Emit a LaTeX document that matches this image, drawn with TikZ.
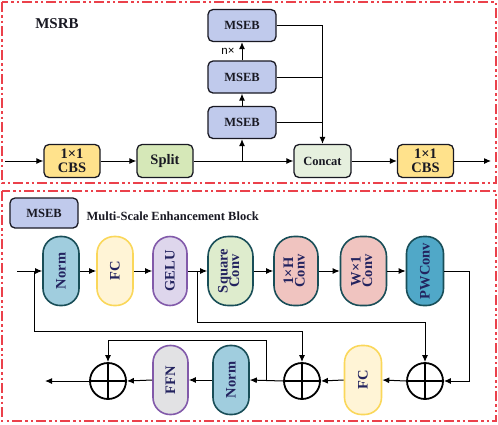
\documentclass[tikz,border=0pt]{standalone}
\usepackage{fontspec}
\setmainfont{Liberation Serif}
\newfontfamily\sansf{Liberation Sans}
\usepackage{graphicx}
\usetikzlibrary{arrows.meta}
\definecolor{bordred}{RGB}{235,65,75}
\definecolor{boxline}{RGB}{25,25,35}
\definecolor{cbsfill}{RGB}{255,226,140}
\definecolor{splitfill}{RGB}{214,232,184}
\definecolor{concatfill}{RGB}{230,240,222}
\definecolor{msebfill}{RGB}{192,202,236}
\definecolor{navy}{RGB}{35,35,95}
\definecolor{normfill}{RGB}{160,205,222}
\definecolor{tealline}{RGB}{25,78,88}
\definecolor{fcfill}{RGB}{255,244,214}
\definecolor{fcline}{RGB}{250,215,90}
\definecolor{gelufill}{RGB}{222,214,236}
\definecolor{purpline}{RGB}{130,90,170}
\definecolor{sqfill}{RGB}{222,236,205}
\definecolor{pinkfill}{RGB}{240,196,192}
\definecolor{pwfill}{RGB}{80,168,200}
\definecolor{ffnfill}{RGB}{226,226,228}
\begin{document}
\begin{tikzpicture}[x=1pt,y=-1pt,
  arr/.style={-{Latex[length=7pt,width=6pt]}, line width=1pt, draw=black},
  ln/.style={line width=1pt, draw=black},
  border/.style={draw=bordred, line width=2pt, dash pattern=on 10pt off 3pt on 2.5pt off 3pt on 2.5pt off 3pt},
  box/.style={draw=boxline, line width=1.3pt, rounded corners=5pt, minimum width=56pt, minimum height=33pt, align=center, inner sep=0pt, text=boxline, font=\fontsize{14.5}{14}\selectfont\bfseries},
  msebbox/.style={box, fill=msebfill, minimum width=68pt, minimum height=32pt, font=\fontsize{12.5}{12.5}\selectfont\bfseries},
  pill/.style={line width=1.6pt, rounded corners=17pt, minimum width=36pt, minimum height=69pt, inner sep=0pt, text=navy, font=\fontsize{14.5}{14.5}\selectfont\bfseries},
  plus/.style={circle, draw=black, line width=1.8pt, minimum size=36pt, inner sep=0pt}
]
\useasboundingbox (0,0) rectangle (498,424);
% borders
\draw[border] (2,2) rectangle (496,183);
\draw[border] (2,191) rectangle (496,421);
% ---------- top: MSRB ----------
\node[font=\fontsize{15}{15}\selectfont\bfseries, text=boxline] (title) at (57,24) {MSRB};
\node[box, fill=cbsfill] (cbs1) at (72,161) {1×1\\CBS};
\node[box, fill=splitfill] (split) at (165,161) {Split};
\node[msebbox] (m1) at (242,122.5) {MSEB};
\node[msebbox] (m2) at (242,77) {MSEB};
\node[msebbox] (m3) at (242,25.5) {MSEB};
\node[box, fill=concatfill, minimum width=57pt, font=\fontsize{12.5}{12.5}\selectfont\bfseries] (concat) at (322.5,161) {Concat};
\node[box, fill=cbsfill] (cbs2) at (425.5,161) {1×1\\CBS};
\coordinate (tin) at (5,161);
\coordinate (tout) at (491,161);
\coordinate (br) at (242,161);
\draw[arr] (tin) -- (cbs1);
\draw[arr] (cbs1) -- (split);
\draw[arr] (split) -- (concat);
\draw[arr] (cbs2) -- (tout);
\draw[arr] (concat) -- (cbs2);
\draw[arr] (br) -- (m1);
\draw[arr] (m1) -- (m2);
\draw[arr] (m2) -- (m3);
\node[font=\sansf\fontsize{11.5}{11.5}\selectfont, anchor=east] (nx) at (238,51) {n×};
\draw[arr] (m3.east) -| (concat.north);
\draw[ln] (m2.east) -- (concat.north |- m2.east);
\draw[ln] (m1.east) -- (concat.north |- m1.east);
% ---------- bottom: MSEB ----------
\node[msebbox, minimum width=68pt, minimum height=30pt] (leg) at (44,213) {MSEB};
\node[anchor=west, font=\fontsize{12.5}{12.5}\selectfont\bfseries, text=boxline] (legtxt) at (83,216) {Multi-Scale Enhancement Block};
\node[pill, draw=tealline, fill=normfill] (n1) at (61,271) {\rotatebox{90}{Norm}};
\node[pill, draw=fcline, fill=fcfill] (f1) at (115,271) {\rotatebox{90}{FC}};
\node[pill, draw=purpline, fill=gelufill, minimum width=34pt] (ge) at (170,271) {\rotatebox{90}{GELU}};
\node[pill, draw=tealline, fill=sqfill, minimum width=45pt, rounded corners=20pt] (sq) at (230.5,271) {\rotatebox{90}{\begin{tabular}{@{}c@{}}Square\\[-3pt]Conv\end{tabular}}};
\node[pill, draw=tealline, fill=pinkfill, minimum width=44pt, rounded corners=20pt] (hc) at (296,271) {\rotatebox{90}{\begin{tabular}{@{}c@{}}1×H\\[-3pt]Conv\end{tabular}}};
\node[pill, draw=tealline, fill=pinkfill, minimum width=46pt, rounded corners=20pt] (wc) at (363.5,271) {\rotatebox{90}{\begin{tabular}{@{}c@{}}W×1\\[-3pt]Conv\end{tabular}}};
\node[pill, draw=tealline, fill=pwfill, minimum width=37pt] (pw) at (425,271) {\rotatebox{90}{PWConv}};
\node[plus] (p1) at (108,381) {};
\node[pill, draw=purpline, fill=ffnfill, minimum width=35pt] (ffn) at (170.5,380) {\rotatebox{90}{FFN}};
\node[pill, draw=tealline, fill=normfill] (n2) at (231,380) {\rotatebox{90}{Norm}};
\node[plus] (p2) at (302,381) {};
\node[pill, draw=fcline, fill=fcfill, minimum width=37pt] (f2) at (363,380) {\rotatebox{90}{FC}};
\node[plus] (p3) at (425,381) {};
\foreach \p in {p1,p2,p3}{
  \draw[line width=1.8pt] (\p.north) -- (\p.south) (\p.west) -- (\p.east);
}
\coordinate (bin) at (17,271);
\coordinate (bout) at (45,381);
\coordinate (s1) at (34,271);
\coordinate (s2) at (197,271);
\coordinate (s3) at (266,381);
\draw[arr] (bin) -- (n1);
\draw[arr] (n1) -- (f1);
\draw[arr] (f1) -- (ge);
\draw[arr] (ge) -- (sq);
\draw[arr] (sq) -- (hc);
\draw[arr] (hc) -- (wc);
\draw[arr] (wc) -- (pw);
\draw[arr] (pw.east) -- ++(25,0) |- (p3.east);
\draw[arr] (p3.west) -- (f2.east);
\draw[arr] (f2.west) -- (p2.east);
\draw[arr] (p2.west) -- (n2.east);
\draw[arr] (n2.west) -- (ffn.east);
\draw[arr] (ffn.west) -- (p1.east);
\draw[arr] (p1.west) -- (bout);
\draw[arr] (s1) -- ++(0,60) -| (p2.north);
\draw[arr] (s2) -- ++(0,51) -| (p3.north);
\draw[arr] (s3) -- ++(0,-41) -| (p1.north);
\end{tikzpicture}
\end{document}
